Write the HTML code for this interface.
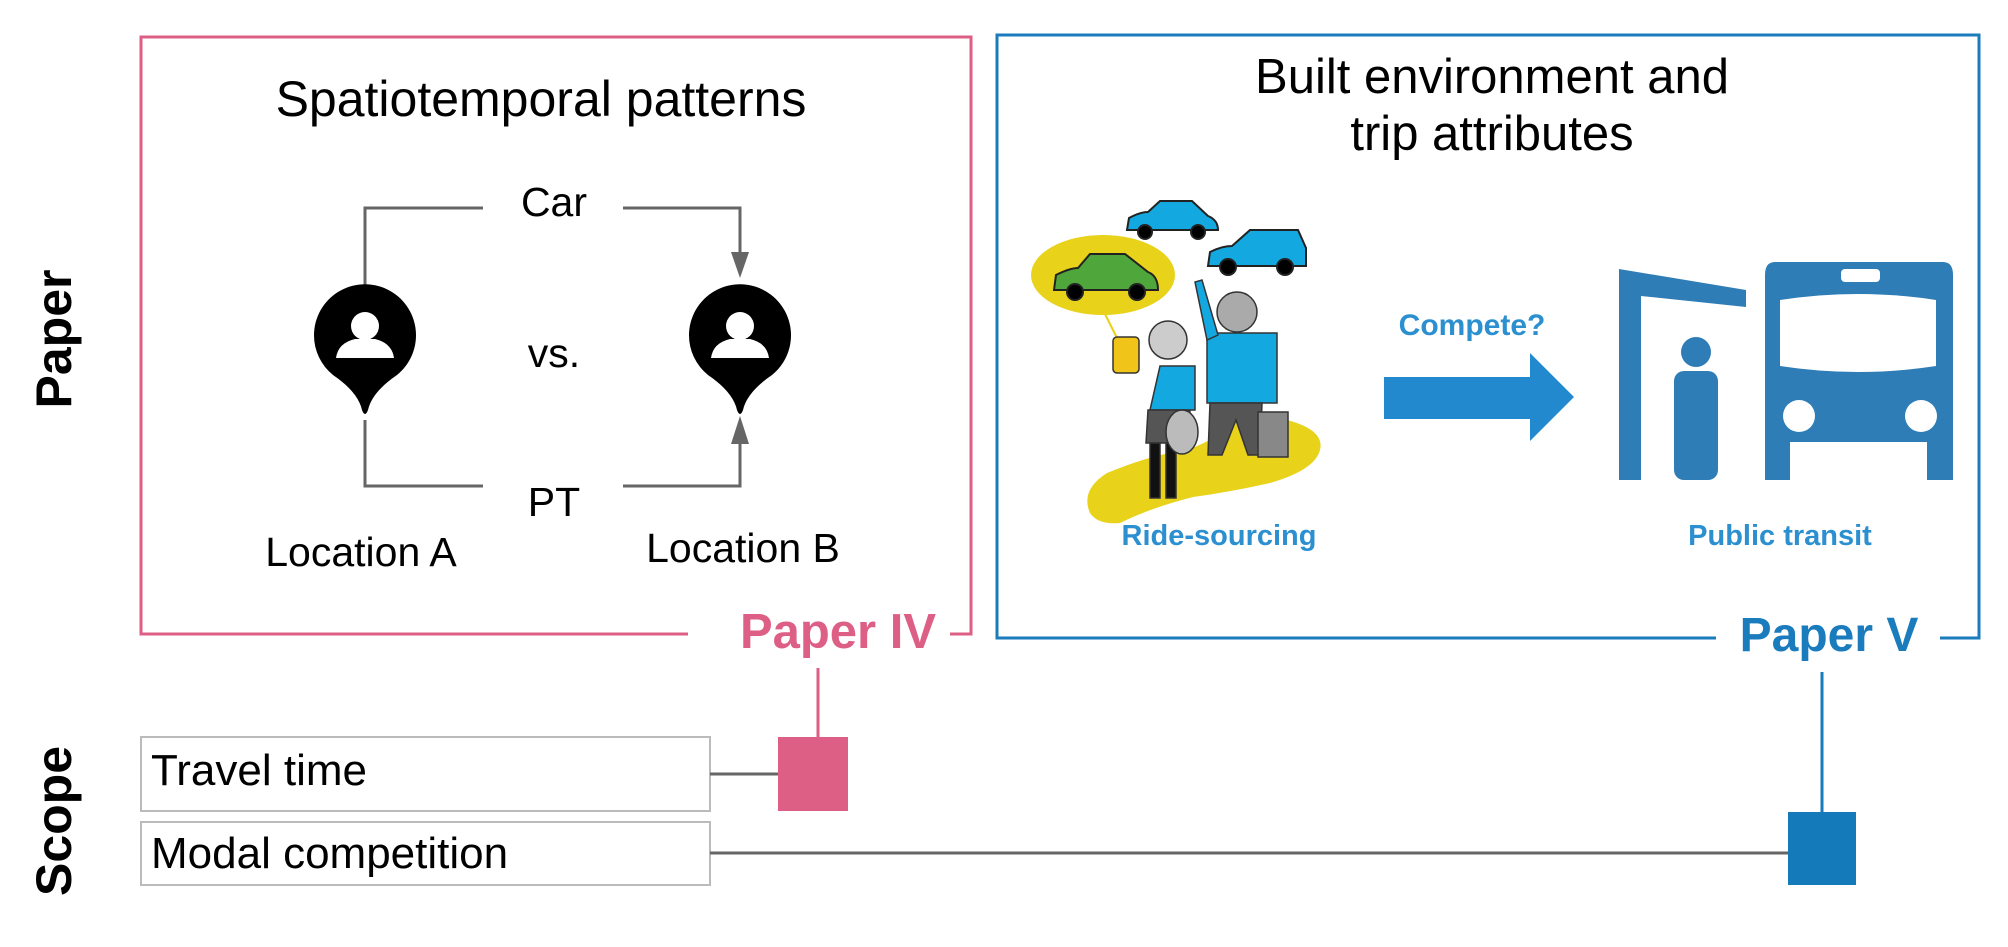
<!DOCTYPE html>
<html><head><meta charset="utf-8"><style>
html,body{margin:0;padding:0;background:#fff;}
svg{display:block;}
text{font-family:"Liberation Sans",Arial,sans-serif;}
</style></head><body>
<svg width="2008" height="947" viewBox="0 0 2008 947" xmlns="http://www.w3.org/2000/svg">
<!-- side labels -->
<text transform="translate(71,339) rotate(-90)" text-anchor="middle" font-size="50" font-weight="bold" fill="#000">Paper</text>
<text transform="translate(71,821) rotate(-90)" text-anchor="middle" font-size="50" font-weight="bold" fill="#000">Scope</text>

<!-- pink box -->
<path d="M688,634 L141,634 L141,37 L971,37 L971,634 L950,634" fill="none" stroke="#dd5f86" stroke-width="3"/>
<text x="838" y="648" text-anchor="middle" font-size="49" font-weight="bold" fill="#dd5f86">Paper IV</text>
<line x1="818" y1="668" x2="818" y2="740" stroke="#dd5f86" stroke-width="3"/>
<rect x="778" y="737" width="70" height="74" fill="#de5f85"/>

<text x="541" y="116" text-anchor="middle" font-size="50" fill="#000">Spatiotemporal patterns</text>
<!-- connectors -->
<path d="M365,290 L365,208 L483,208" fill="none" stroke="#666" stroke-width="3"/>
<path d="M623,208 L740,208 L740,260" fill="none" stroke="#666" stroke-width="3"/>
<path d="M731,252 L749,252 L740,278 z" fill="#666"/>
<path d="M365,420 L365,486 L483,486" fill="none" stroke="#666" stroke-width="3"/>
<path d="M623,486 L740,486 L740,440" fill="none" stroke="#666" stroke-width="3"/>
<path d="M731,444 L749,444 L740,416 z" fill="#666"/>
<text x="554" y="216" text-anchor="middle" font-size="41" fill="#000">Car</text>
<text x="554" y="367" text-anchor="middle" font-size="41" fill="#000">vs.</text>
<text x="554" y="516" text-anchor="middle" font-size="41" fill="#000">PT</text>
<text x="361" y="566" text-anchor="middle" font-size="41" fill="#000">Location A</text>
<text x="743" y="562" text-anchor="middle" font-size="41" fill="#000">Location B</text>
<!-- pins -->
<g>
<path d="M314,335 A51,51 0 1 1 397,375 Q372,392 368,410 Q365,418 362,410 Q358,392 333,375 A51,51 0 0 1 314,335 z" fill="#000"/>
<circle cx="365" cy="326" r="14" fill="#fff"/>
<path d="M336,358 Q338,343 355,339 L375,339 Q392,343 394,358 z" fill="#fff"/>
</g>
<g transform="translate(375,0)">
<path d="M314,335 A51,51 0 1 1 397,375 Q372,392 368,410 Q365,418 362,410 Q358,392 333,375 A51,51 0 0 1 314,335 z" fill="#000"/>
<circle cx="365" cy="326" r="14" fill="#fff"/>
<path d="M336,358 Q338,343 355,339 L375,339 Q392,343 394,358 z" fill="#fff"/>
</g>

<!-- blue box -->
<path d="M1716,638 L997,638 L997,35 L1979,35 L1979,638 L1940,638" fill="none" stroke="#1a7bbd" stroke-width="3"/>
<text x="1829" y="651" text-anchor="middle" font-size="48" font-weight="bold" fill="#1a7bbd">Paper V</text>
<line x1="1822" y1="672" x2="1822" y2="815" stroke="#1a7bbd" stroke-width="3"/>
<rect x="1788" y="812" width="68" height="73" fill="#147ab9"/>
<text x="1492" y="93" text-anchor="middle" font-size="49" fill="#000">Built environment and</text>
<text x="1492" y="150" text-anchor="middle" font-size="49" fill="#000">trip attributes</text>

<!-- ride-sourcing illustration -->
<path d="M1090,513 Q1080,490 1107,473 Q1150,455 1187,450 Q1215,440 1233,423 Q1260,410 1287,420 Q1325,430 1320,450 Q1315,470 1270,483 Q1230,492 1193,497 Q1150,508 1120,523 Q1098,525 1090,513 z" fill="#e8d21a"/>
<ellipse cx="1103" cy="275" rx="72" ry="40" fill="#e8d21a"/>
<line x1="1105" y1="314" x2="1118" y2="340" stroke="#e8d21a" stroke-width="2"/>
<g stroke="#222" stroke-width="2">
<path d="M1054,290 L1056,275 Q1070,268 1078,268 L1090,254 L1125,254 L1148,272 Q1158,276 1158,290 z" fill="#4fa63a"/>
<circle cx="1075" cy="292" r="8" fill="#000"/><circle cx="1137" cy="292" r="8" fill="#000"/>
<path d="M1127,230 L1129,218 Q1140,212 1148,212 L1160,201 L1192,201 L1208,216 Q1218,220 1218,230 z" fill="#13a9e0"/>
<circle cx="1145" cy="232" r="7" fill="#000"/><circle cx="1198" cy="232" r="7" fill="#000"/>
<path d="M1208,266 L1210,252 Q1222,246 1232,246 L1250,230 L1298,230 L1306,248 L1306,266 z" fill="#13a9e0"/>
<circle cx="1228" cy="267" r="8" fill="#000"/><circle cx="1285" cy="267" r="8" fill="#000"/>
</g>
<g stroke="#333" stroke-width="1.5">
<rect x="1207" y="333" width="70" height="70" fill="#13a9e0"/>
<path d="M1207,340 L1195,282 L1202,280 L1218,335 z" fill="#13a9e0"/>
<path d="M1210,403 L1262,403 L1260,455 L1248,455 L1236,420 L1222,455 L1208,455 z" fill="#555"/>
<rect x="1258" y="412" width="30" height="45" fill="#888"/>
<circle cx="1237" cy="312" r="20" fill="#aaa"/>
<path d="M1160,366 L1195,366 L1195,410 L1150,410 z" fill="#13a9e0"/>
<path d="M1148,410 L1190,410 L1188,443 L1146,443 z" fill="#555"/>
<rect x="1150" y="443" width="10" height="55" fill="#111"/>
<rect x="1166" y="443" width="10" height="55" fill="#111"/>
<circle cx="1168" cy="340" r="19" fill="#ccc"/>
<rect x="1113" y="337" width="26" height="36" rx="4" fill="#f0c419"/>
<ellipse cx="1182" cy="432" rx="16" ry="22" fill="#bbb"/>
</g>
<text x="1219" y="545" text-anchor="middle" font-size="29" font-weight="bold" fill="#2b8fd0">Ride-sourcing</text>

<!-- arrow -->
<text x="1472" y="335" text-anchor="middle" font-size="30" font-weight="bold" fill="#2b8fd0">Compete?</text>
<path d="M1384,377 L1530,377 L1530,353 L1574,397 L1530,441 L1530,419 L1384,419 z" fill="#2289cf"/>

<!-- public transit icon -->
<g fill="#2e7db6">
<path d="M1619,269 L1746,290 L1746,307 L1641,296 L1641,480 L1619,480 z"/>
<circle cx="1696" cy="352" r="15"/>
<rect x="1674" y="371" width="44" height="109" rx="10"/>
<path d="M1775,262 L1943,262 Q1953,262 1953,275 L1953,440 L1953,480 L1927,480 L1927,442 L1790,442 L1790,480 L1765,480 L1765,275 Q1765,262 1775,262 z"/>
</g>
<rect x="1841" y="269" width="39" height="13" rx="4" fill="#fff"/>
<path d="M1780,300 Q1858,288 1936,300 L1936,366 Q1858,378 1780,366 z" fill="#fff"/>
<circle cx="1799" cy="416" r="16" fill="#fff"/>
<circle cx="1921" cy="416" r="16" fill="#fff"/>
<text x="1780" y="545" text-anchor="middle" font-size="29" font-weight="bold" fill="#2b8fd0">Public transit</text>

<!-- scope boxes -->
<rect x="141" y="737" width="569" height="74" fill="#fff" stroke="#bbb" stroke-width="2"/>
<text x="151" y="785" font-size="44" fill="#000">Travel time</text>
<rect x="141" y="822" width="569" height="63" fill="#fff" stroke="#bbb" stroke-width="2"/>
<text x="151" y="868" font-size="44" fill="#000">Modal competition</text>
<line x1="710" y1="774" x2="778" y2="774" stroke="#666" stroke-width="3"/>
<line x1="710" y1="853" x2="1788" y2="853" stroke="#666" stroke-width="3"/>
</svg>
</body></html>
